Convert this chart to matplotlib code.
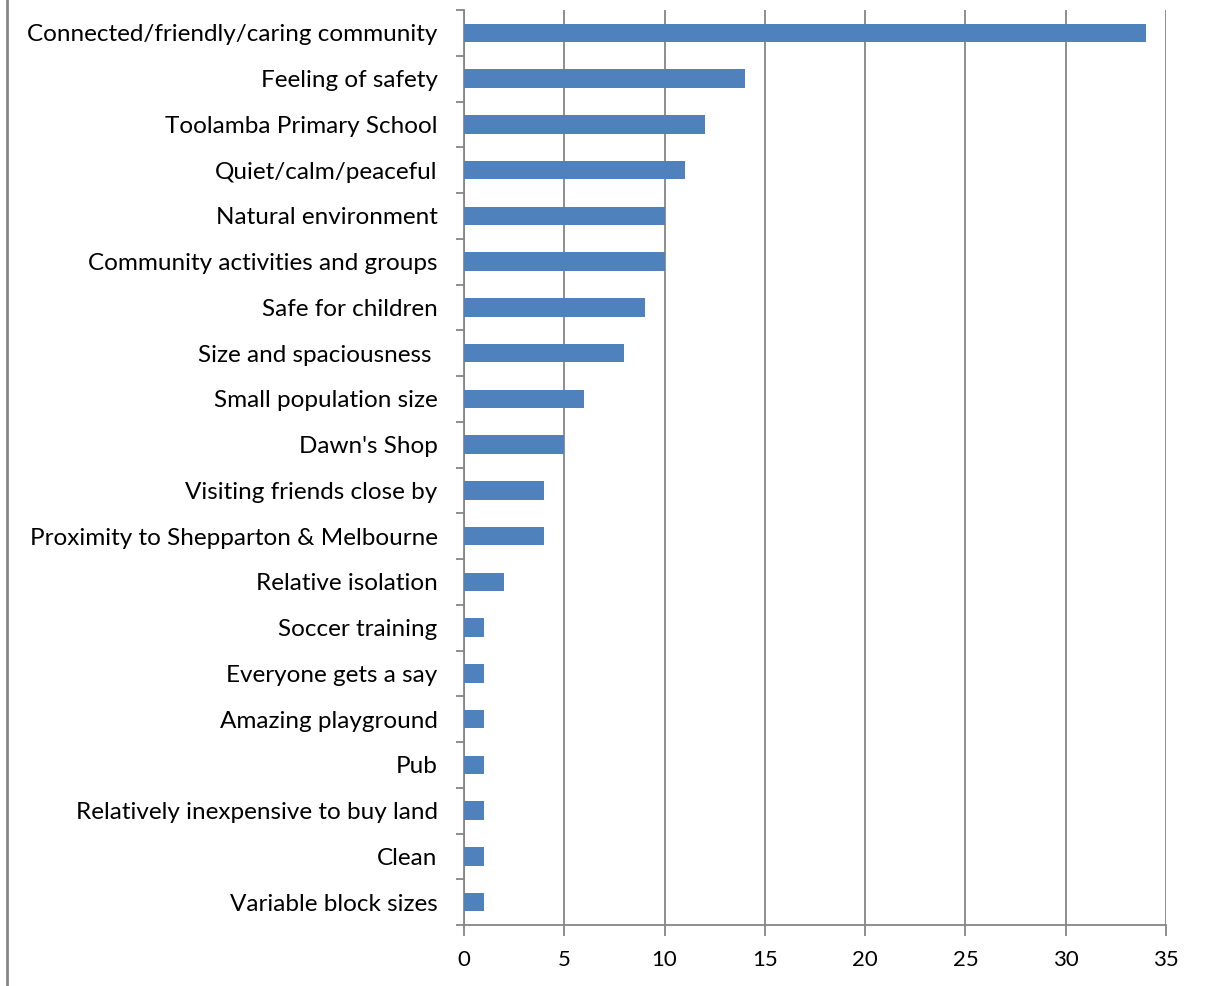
import numpy as np
import matplotlib.pyplot as plt
from matplotlib.lines import Line2D

plt.rcParams['font.family'] = ['Lato', 'DejaVu Sans']

# what people like about living here, top to bottom
categorias = [
    "Connected/friendly/caring community",
    "Feeling of safety",
    "Toolamba Primary School",
    "Quiet/calm/peaceful",
    "Natural environment",
    "Community activities and groups",
    "Safe for children",
    "Size and spaciousness ",
    "Small population size",
    "Dawn's Shop",
    "Visiting friends close by",
    "Proximity to Shepparton & Melbourne",
    "Relative isolation",
    "Soccer training",
    "Everyone gets a say",
    "Amazing playground",
    "Pub",
    "Relatively inexpensive to buy land",
    "Clean",
    "Variable block sizes",
]
valores = [34, 14, 12, 11, 10, 10, 9, 8, 6, 5, 4, 4, 2, 1, 1, 1, 1, 1, 1, 1]
ticks_x = [0, 5, 10, 15, 20, 25, 30, 35]

gris = '#868686'
azul = '#4F81BD'

fig = plt.figure(figsize=(12.06, 9.86), dpi=100)
ax = fig.add_axes([464/1206, 61/986, 702/1206, 915/986])

n = len(categorias)
pos = np.arange(n)[::-1]
ax.barh(pos, valores, height=0.4, color=azul, zorder=3)

ax.set_xlim(0, 35)
ax.set_ylim(-0.5, n - 0.5)
ax.set_xticks(ticks_x)
ax.set_xticklabels([str(t) for t in ticks_x], fontsize=16)
ax.grid(axis='x', color=gris, linewidth=1.3, zorder=0)

ax.set_yticks(pos)
ax.set_yticklabels(categorias, fontsize=17.5)
ax.set_yticks(np.arange(n + 1) - 0.5, minor=True)
ax.tick_params(axis='y', which='major', length=0, pad=19)
ax.tick_params(axis='y', which='minor', length=6, width=1.3, color=gris)
ax.tick_params(axis='x', length=8, width=1.3, color=gris, pad=10)

for s in ['top', 'right']:
    ax.spines[s].set_visible(False)
for s in ['left', 'bottom']:
    ax.spines[s].set_color(gris)
    ax.spines[s].set_linewidth(1.3)

# borde izquierdo del cuadro
fig.add_artist(Line2D([7/1206, 7/1206], [0, 1], color=gris, linewidth=2,
                      transform=fig.transFigure))

fig.savefig('out.png', dpi=100)
